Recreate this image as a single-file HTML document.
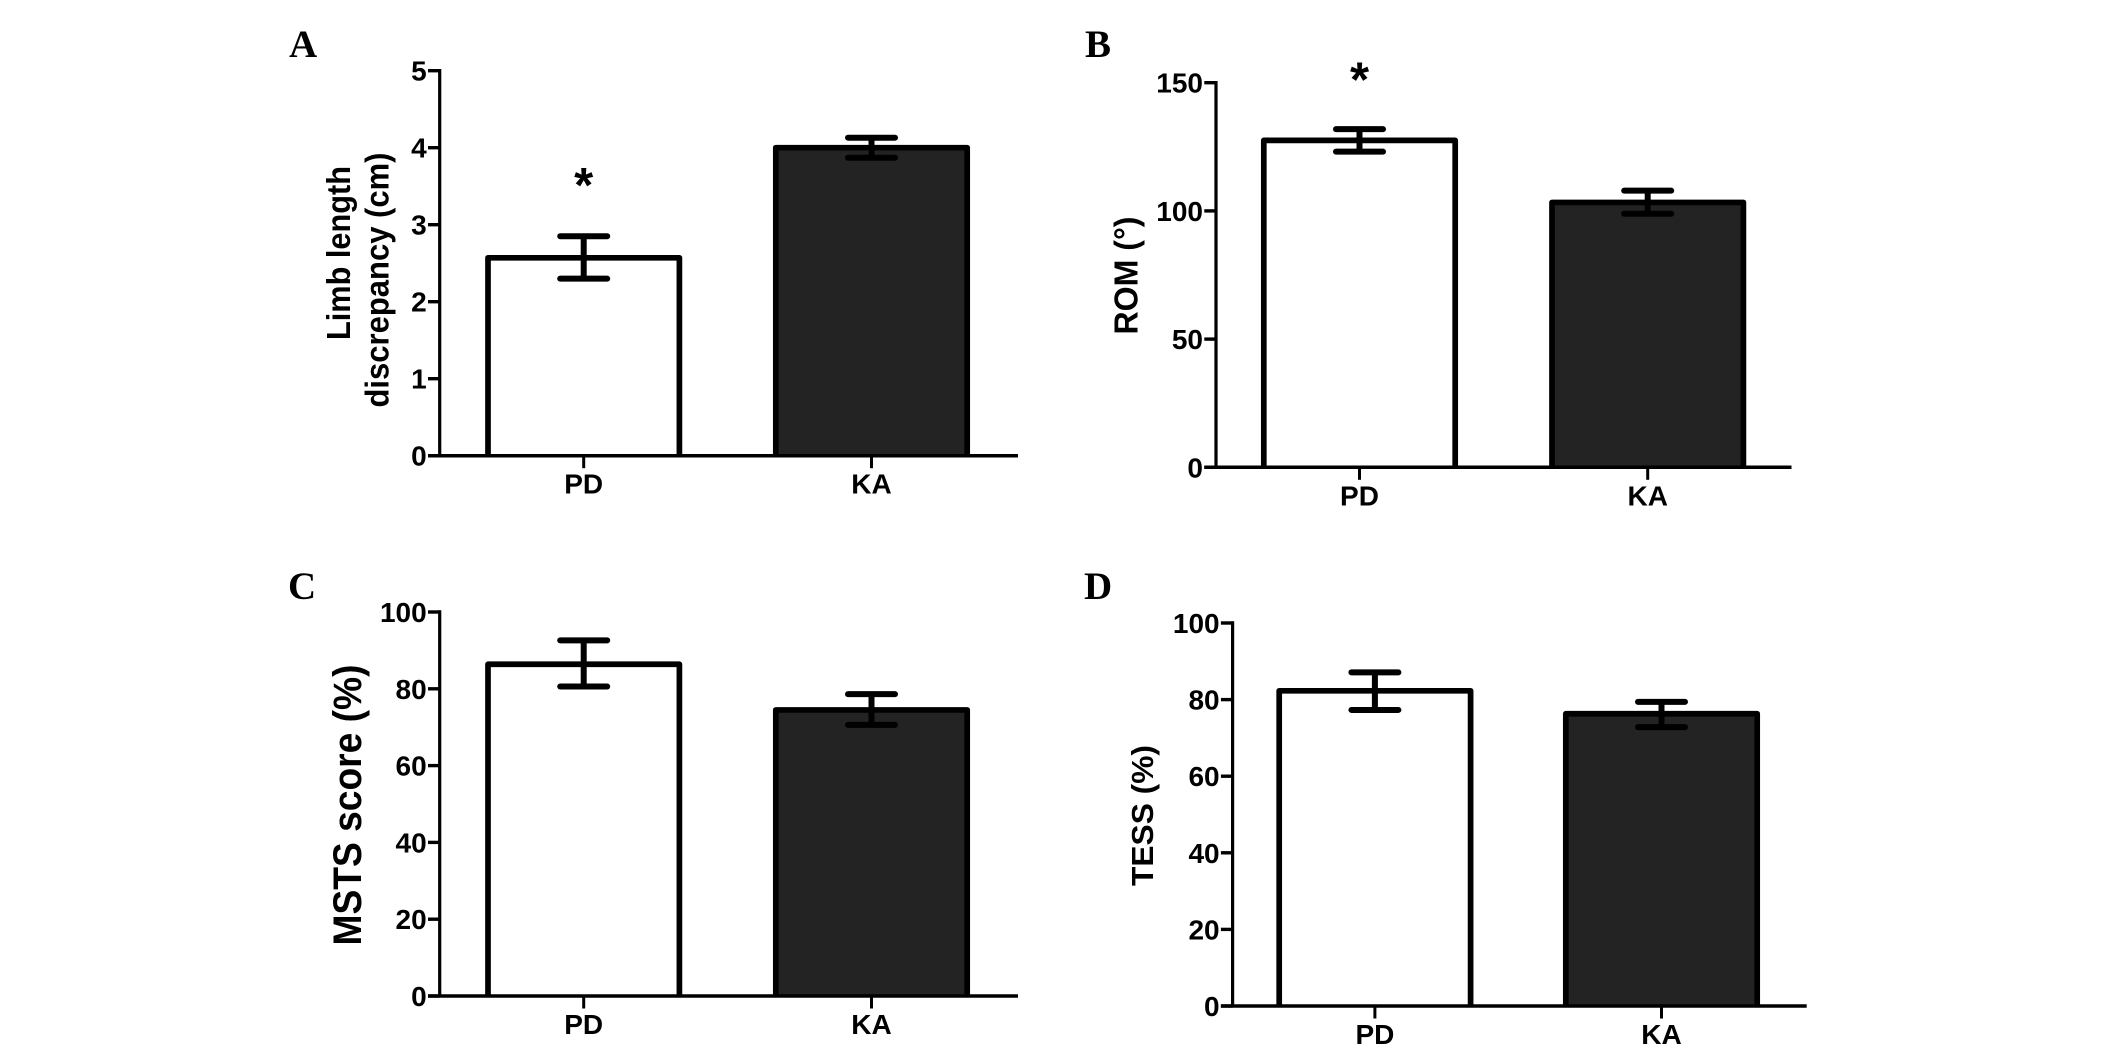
<!DOCTYPE html>
<html lang="en">
<head>
<meta charset="utf-8">
<title>Bar charts comparing PD and KA groups</title>
<style>
html,body{margin:0;padding:0;background:#fff;}
body{width:2126px;height:1053px;overflow:hidden;}
svg{display:block;}
text{font-family:"Liberation Sans",Arial,sans-serif;font-weight:700;fill:#000;}
.panel-letter{font-family:"Liberation Serif","Times New Roman",serif;font-size:39px;}
.axis-title{font-size:33px;}
</style>
</head>
<body>
<svg id="figure" xmlns="http://www.w3.org/2000/svg" width="2126" height="1053" viewBox="0 0 2126 1053">
  <g id="panel-a">
    <text class="panel-letter" x="289" y="57">A</text>
    <text class="axis-title" transform="translate(350 253) rotate(-90)" text-anchor="middle" textLength="174" lengthAdjust="spacingAndGlyphs">Limb length</text>
    <text class="axis-title" transform="translate(388.5 280) rotate(-90)" text-anchor="middle" textLength="255" lengthAdjust="spacingAndGlyphs">discrepancy (cm)</text>
  </g>
  <g id="panel-b">
    <text class="panel-letter" x="1085" y="57">B</text>
    <text class="axis-title" transform="translate(1137.5 275.5) rotate(-90)" text-anchor="middle" textLength="118" lengthAdjust="spacingAndGlyphs">ROM (°)</text>
  </g>
  <g id="panel-c">
    <text class="panel-letter" x="288" y="599">C</text>
    <text class="axis-title" style="font-size:40px" transform="translate(361 805) rotate(-90)" text-anchor="middle" textLength="281" lengthAdjust="spacingAndGlyphs">MSTS score (%)</text>
  </g>
  <g id="panel-d">
    <text class="panel-letter" x="1084" y="599">D</text>
    <text class="axis-title" style="font-size:31px" transform="translate(1153 815.5) rotate(-90)" text-anchor="middle" textLength="141" lengthAdjust="spacingAndGlyphs">TESS (%)</text>
  </g>
</svg>
<script>
const categories = ['PD', 'KA'];

const panelAValues = [2.57, 4.0];
const panelAErrorHigh = [2.85, 4.13];
const panelAErrorLow = [2.30, 3.87];
const panelATicks = [0, 1, 2, 3, 4, 5];
const panelAStars = [3.6, null];

const panelBValues = [127.5, 103.3];
const panelBErrorHigh = [131.9, 107.9];
const panelBErrorLow = [123.1, 98.9];
const panelBTicks = [0, 50, 100, 150];
const panelBStars = [153.7, null];

const panelCValues = [86.4, 74.5];
const panelCErrorHigh = [92.6, 78.6];
const panelCErrorLow = [80.6, 70.6];
const panelCTicks = [0, 20, 40, 60, 80, 100];
const panelCStars = [null, null];

const panelDValues = [82.3, 76.3];
const panelDErrorHigh = [87.1, 79.4];
const panelDErrorLow = [77.3, 72.8];
const panelDTicks = [0, 20, 40, 60, 80, 100];
const panelDStars = [null, null];

const SVG_NS = 'http://www.w3.org/2000/svg';

function make(parent, tag, attrs, content) {
  const el = document.createElementNS(SVG_NS, tag);
  for (const key in attrs) el.setAttribute(key, attrs[key]);
  if (content !== undefined) el.textContent = content;
  parent.appendChild(el);
  return el;
}

function drawPanel(id, geom, values, errHigh, errLow, ticks, stars) {
  const root = document.getElementById(id);
  const maxTick = ticks[ticks.length - 1];
  const yScale = v => geom.y0 - (v / maxTick) * (geom.y0 - geom.yTop);
  const xScale = i => geom.centers[i];

  categories.forEach((cat, i) => {
    const top = yScale(values[i]);
    const left = xScale(i) - 95.7;
    const right = xScale(i) + 95.7;
    const bar = make(root, 'path', {
      d: 'M' + left + ' ' + geom.y0 + ' V' + top + ' H' + right + ' V' + geom.y0,
      fill: i === 0 ? '#ffffff' : '#232323',
      stroke: '#000',
      'stroke-width': 5.7,
      'stroke-linejoin': 'round'
    });
    
    
  });

  const yAxis = make(root, 'line', {
    x1: geom.axisX, x2: geom.axisX,
    y1: yScale(maxTick) - 1.7, y2: geom.y0,
    stroke: '#000', 'stroke-width': 3.2
  });
  
  

  const xAxis = make(root, 'line', {
    x1: geom.axisX - 11.7, x2: geom.right,
    y1: geom.y0, y2: geom.y0,
    stroke: '#000', 'stroke-width': 3.5
  });
  
  

  ticks.forEach(t => {
    const mark = make(root, 'line', {
      x1: geom.axisX - 11.7, x2: geom.axisX,
      y1: yScale(t), y2: yScale(t),
      stroke: '#000', 'stroke-width': 3.4
    });
    
    

    const label = make(root, 'text', {
      x: geom.axisX - 13,
      y: yScale(t) + 10,
      'text-anchor': 'end',
      'font-size': 28
    }, String(t));
    
    
  });

  categories.forEach((cat, i) => {
    const name = cat.toLowerCase();
    const cx = xScale(i);

    const mark = make(root, 'line', {
      x1: cx, x2: cx, y1: geom.y0, y2: geom.y0 + 12.5,
      stroke: '#000', 'stroke-width': 3
    });
    
    

    const label = make(root, 'text', {
      x: cx, y: geom.y0 + 38,
      'text-anchor': 'middle',
      'font-size': 28
    }, cat);
    
    

    const stem = make(root, 'line', {
      x1: cx, x2: cx,
      y1: yScale(errHigh[i]), y2: yScale(errLow[i]),
      stroke: '#000', 'stroke-width': 6
    });
    
    

    const capHigh = make(root, 'line', {
      x1: cx - 23.5, x2: cx + 23.5,
      y1: yScale(errHigh[i]), y2: yScale(errHigh[i]),
      stroke: '#000', 'stroke-width': 6, 'stroke-linecap': 'round'
    });
    
    

    const capLow = make(root, 'line', {
      x1: cx - 23.5, x2: cx + 23.5,
      y1: yScale(errLow[i]), y2: yScale(errLow[i]),
      stroke: '#000', 'stroke-width': 6, 'stroke-linecap': 'round'
    });
    
    

    if (stars[i] !== null) {
      const star = make(root, 'text', {
        x: cx, y: yScale(stars[i]) + 23.5,
        'text-anchor': 'middle',
        'font-size': 49
      }, '*');
      
      
    }
  });
}

drawPanel('panel-a', {axisX: 439.7, right: 1018, y0: 455.7, yTop: 70.7, centers: [583.7, 871.5]},
  panelAValues, panelAErrorHigh, panelAErrorLow, panelATicks, panelAStars);
drawPanel('panel-b', {axisX: 1216, right: 1791.5, y0: 467.3, yTop: 82.7, centers: [1359.5, 1647.7]},
  panelBValues, panelBErrorHigh, panelBErrorLow, panelBTicks, panelBStars);
drawPanel('panel-c', {axisX: 439.7, right: 1018, y0: 996, yTop: 612, centers: [583.7, 871.5]},
  panelCValues, panelCErrorHigh, panelCErrorLow, panelCTicks, panelCStars);
drawPanel('panel-d', {axisX: 1232.6, right: 1806.7, y0: 1006, yTop: 623, centers: [1374.9, 1661.5]},
  panelDValues, panelDErrorHigh, panelDErrorLow, panelDTicks, panelDStars);
</script>
</body>
</html>
